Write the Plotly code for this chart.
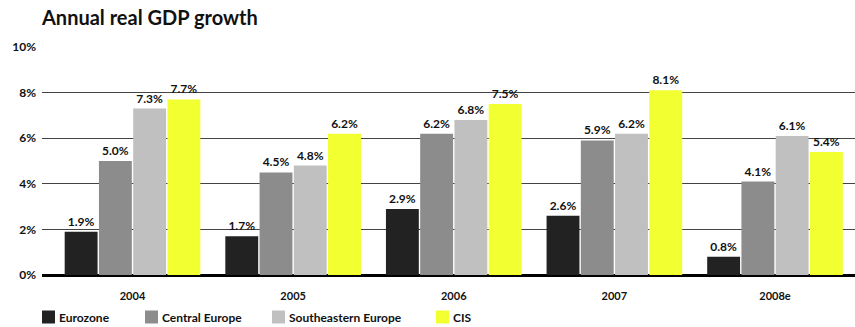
import plotly.graph_objects as go

# Annual real GDP growth by region, %
years = ["2004", "2005", "2006", "2007", "2008e"]
eurozone = [1.9, 1.7, 2.9, 2.6, 0.8]
central_europe = [5.0, 4.5, 6.2, 5.9, 4.1]
southeastern_europe = [7.3, 4.8, 6.8, 6.2, 6.1]
cis = [7.7, 6.2, 7.5, 8.1, 5.4]

series = [
    ("Eurozone", eurozone, "#222222"),
    ("Central Europe", central_europe, "#8c8c8c"),
    ("Southeastern Europe", southeastern_europe, "#c0c0c0"),
    ("CIS", cis, "#f2ff30"),
]

FONT = "Lato"
W, H = 855, 327
ML, MR, MT, MB = 42, 0, 47, 52
PW, PH = W - ML - MR, H - MT - MB

fig = go.Figure()
for name, vals, color in series:
    fig.add_trace(go.Bar(
        x=years, y=vals, name=name,
        marker=dict(color=color, line=dict(width=0)),
        text=[f"{v:.1f}%" for v in vals],
        textposition="outside",
        textfont=dict(family=FONT, size=12, color="#111111", weight="bold"),
        cliponaxis=False,
        showlegend=False,
    ))

# Legend row below the chart: colour square + label, laid out in pixels
legend_left_px = [42, 145, 272, 436]
legend_cy_px = 317
sq = 13
shapes, annotations = [], []
for (name, _, color), lx in zip(series, legend_left_px):
    x0 = (lx - ML) / PW
    x1 = (lx + sq - ML) / PW
    y0 = (H - MB - (legend_cy_px + sq / 2)) / PH
    y1 = (H - MB - (legend_cy_px - sq / 2)) / PH
    shapes.append(dict(type="rect", xref="paper", yref="paper",
                       x0=x0, x1=x1, y0=y0, y1=y1,
                       fillcolor=color, line=dict(width=0)))
    annotations.append(dict(text=name, xref="paper", yref="paper",
                            x=(lx + sq + 2 - ML) / PW, y=(H - MB - legend_cy_px) / PH,
                            xanchor="left", yanchor="middle", showarrow=False,
                            font=dict(family=FONT, size=12, color="#111111", weight="bold")))

fig.update_layout(
    width=W, height=H,
    margin=dict(l=ML, r=MR, t=MT, b=MB, autoexpand=False),
    paper_bgcolor="white", plot_bgcolor="white",
    barmode="group", bargap=0.147, bargroupgap=0.04,
    title=dict(text="Annual real GDP growth", x=0, xref="paper", xanchor="left",
               y=0.945, yanchor="middle",
               font=dict(family=FONT, size=20, color="#111111", weight="bold")),
    font=dict(family=FONT, color="#111111"),
    showlegend=False,
    shapes=shapes,
    annotations=annotations,
)

fig.update_xaxes(
    type="category", range=[-0.5635, 4.498],
    showgrid=False, showline=False, ticks="",
    ticklabelstandoff=13,
    tickfont=dict(family=FONT, size=11, color="#111111", weight="bold"),
)
fig.update_yaxes(
    range=[0, 10], tickvals=[0, 2, 4, 6, 8, 10],
    ticktext=["0%", "2%", "4%", "6%", "8%", "10%"],
    showgrid=True, gridcolor="#444444", gridwidth=1,
    zeroline=True, zerolinecolor="#000000", zerolinewidth=3,
    showline=False, ticks="", ticklabelstandoff=5,
    tickfont=dict(family=FONT, size=12, color="#111111", weight="bold"),
)

fig.write_html("out.html")
